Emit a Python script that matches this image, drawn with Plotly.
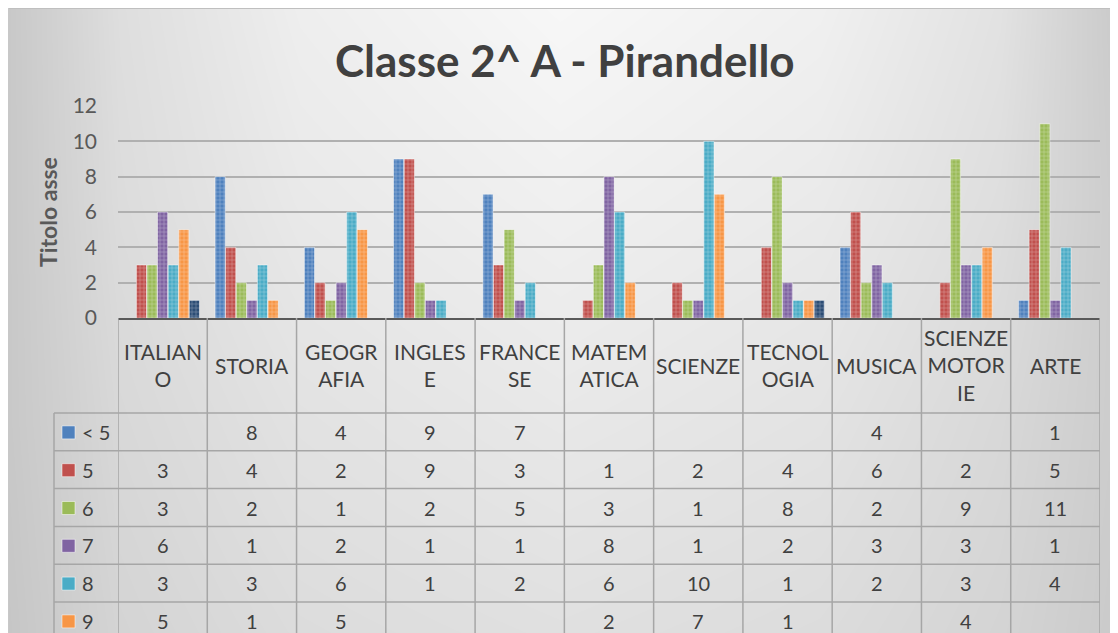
import plotly.graph_objects as go

# la pagina ha un margine di 8px: la figura parte da (8, 8)
OFF = 8
W, H = 1118 - OFF, 633 - OFF

# dati
materie = ["ITALIANO", "STORIA", "GEOGRAFIA", "INGLESE", "FRANCESE", "MATEMATICA",
           "SCIENZE", "TECNOLOGIA", "MUSICA", "SCIENZE MOTORIE", "ARTE"]
etichette = ["ITALIAN<br>O", "STORIA", "GEOGR<br>AFIA", "INGLES<br>E", "FRANCE<br>SE",
             "MATEM<br>ATICA", "SCIENZE", "TECNOL<br>OGIA", "MUSICA",
             "SCIENZE<br>MOTOR<br>IE", "ARTE"]

voti = ["< 5", "5", "6", "7", "8", "9", "10"]
meno_5 = [None, 8, 4, 9, 7, None, None, None, 4, None, 1]
voto_5 = [3, 4, 2, 9, 3, 1, 2, 4, 6, 2, 5]
voto_6 = [3, 2, 1, 2, 5, 3, 1, 8, 2, 9, 11]
voto_7 = [6, 1, 2, 1, 1, 8, 1, 2, 3, 3, 1]
voto_8 = [3, 3, 6, 1, 2, 6, 10, 1, 2, 3, 4]
voto_9 = [5, 1, 5, None, None, 2, 7, 1, None, 4, None]
voto_10 = [1, None, None, None, None, None, None, 1, None, None, None]
serie = [meno_5, voto_5, voto_6, voto_7, voto_8, voto_9, voto_10]

colori = ["#4F81BD", "#C0504D", "#9BBB59", "#8064A2", "#4BACC6", "#F79646", "#2C4D75"]

# sfondo sfumato (livelli di grigio stimati, coordinate schermo)
bg_x = [8, 120, 300, 560, 820, 1000, 1118]
bg_y = [8, 200, 420, 633]
bg_z = [
    [200, 222, 238, 247, 240, 226, 202],
    [200, 220, 233, 240, 234, 222, 204],
    [200, 216, 226, 232, 227, 216, 204],
    [198, 212, 220, 224, 220, 212, 202],
]

FONT = "Lato, 'Open Sans', sans-serif"
TXT = "#404040"
GRID = "#b0b0b0"

PLOT_L, PLOT_R = 118, 1100
Y_ZERO, Y_TOP = 318, 106
HEAD_BOTTOM = 413
ROW_H = 37.8
LEG_L = 54


def px(x):
    return (x - OFF) / W


def py(y):
    return 1 - (y - OFF) / H


fig = go.Figure()

fig.add_trace(go.Heatmap(
    x=bg_x, y=bg_y, z=bg_z, zmin=0, zmax=255, zsmooth="best",
    colorscale=[[0, "rgb(0,0,0)"], [1, "rgb(255,255,255)"]],
    showscale=False, hoverinfo="skip", xaxis="x", yaxis="y",
))

for nome, valori, colore in zip(voti, serie, colori):
    fig.add_trace(go.Bar(
        x=materie, y=valori, name=nome, xaxis="x2", yaxis="y2",
        marker=dict(
            color=colore,
            line=dict(color="rgba(255,255,255,0.45)", width=1),
            pattern=dict(shape="+", fillmode="overlay", fgcolor="white",
                         fgopacity=0.35, size=4, solidity=0.3),
        ),
    ))

shapes = []
line_style = dict(color="#a6a6a6", width=1.5)

# bordo dell'area grafico
shapes.append(dict(type="line", xref="paper", yref="paper",
                   x0=0, x1=1, y0=1, y1=1,
                   line=dict(color="#bfbfbf", width=2)))
shapes.append(dict(type="line", xref="paper", yref="paper",
                   x0=0, x1=0, y0=1, y1=0,
                   line=dict(color="#c8c8c8", width=2)))

# tabella dati: linee verticali sulle categorie
for i in range(len(materie) + 1):
    shapes.append(dict(type="line", xref="x2", yref="paper",
                       x0=i - 0.5, x1=i - 0.5, y0=py(Y_ZERO), y1=0,
                       line=line_style))
shapes.append(dict(type="line", xref="paper", yref="paper",
                   x0=px(LEG_L), x1=px(LEG_L), y0=py(HEAD_BOTTOM), y1=0,
                   line=line_style))

annotations = []

for i, lab in enumerate(etichette):
    annotations.append(dict(x=materie[i], xref="x2", y=py(365), yref="paper",
                            text=lab, showarrow=False, xanchor="center",
                            yanchor="middle", align="center",
                            font=dict(family=FONT, size=21, color=TXT)))

for r, (nome, valori, colore) in enumerate(zip(voti, serie, colori)):
    top = HEAD_BOTTOM + r * ROW_H
    shapes.append(dict(type="line", xref="paper", yref="paper",
                       x0=px(LEG_L), x1=px(PLOT_R), y0=py(top), y1=py(top),
                       line=line_style))
    if top + ROW_H / 2 > H + OFF:
        continue
    yc = top + ROW_H / 2
    shapes.append(dict(type="rect", xref="paper", yref="paper",
                       x0=px(62), x1=px(75), y0=py(yc - 6), y1=py(yc + 7),
                       fillcolor=colore,
                       line=dict(color="rgba(255,255,255,0.5)", width=1)))
    annotations.append(dict(x=px(80), xref="paper", y=py(yc), yref="paper",
                            text=nome, showarrow=False, xanchor="left",
                            yanchor="middle",
                            font=dict(family=FONT, size=20, color=TXT)))
    for i, v in enumerate(valori):
        if v is None:
            continue
        annotations.append(dict(x=materie[i], xref="x2", y=py(yc), yref="paper",
                                text=str(v), showarrow=False, xanchor="center",
                                yanchor="middle",
                                font=dict(family=FONT, size=20, color=TXT)))

annotations.append(dict(x=px(565), y=py(60), xref="paper", yref="paper",
                        text="<b>Classe 2^ A - Pirandello</b>", showarrow=False,
                        xanchor="center", yanchor="middle",
                        font=dict(family=FONT, size=44, color=TXT)))
annotations.append(dict(x=px(48), y=py(212), xref="paper", yref="paper",
                        text="<b>Titolo asse</b>", showarrow=False, textangle=-90,
                        xanchor="center", yanchor="middle",
                        font=dict(family=FONT, size=23, color="#595959")))

fig.update_layout(
    width=W, height=H,
    margin=dict(l=0, r=0, t=0, b=0, pad=0),
    paper_bgcolor="white",
    plot_bgcolor="rgba(0,0,0,0)",
    showlegend=False,
    barmode="group",
    bargap=0.17,
    bargroupgap=0.04,
    xaxis=dict(domain=[0, 1], range=[OFF, OFF + W], visible=False,
               fixedrange=True, automargin=False),
    yaxis=dict(domain=[0, 1], range=[OFF + H, OFF], visible=False,
               fixedrange=True, automargin=False),
    xaxis2=dict(domain=[px(PLOT_L), px(PLOT_R)], anchor="y2", type="category",
                range=[-0.5, len(materie) - 0.5], showticklabels=False,
                showgrid=False, showline=True, linecolor="#595959", linewidth=2,
                ticks="", automargin=False),
    yaxis2=dict(domain=[py(Y_ZERO), py(Y_TOP)], anchor="x2", range=[0, 12],
                dtick=2, showgrid=True, gridcolor=GRID, gridwidth=2,
                zeroline=False, showline=False, ticks="",
                ticklabelstandoff=20, automargin=False,
                tickfont=dict(family=FONT, size=21, color="#595959")),
    shapes=shapes,
    annotations=annotations,
)

fig.write_html("out.html")
